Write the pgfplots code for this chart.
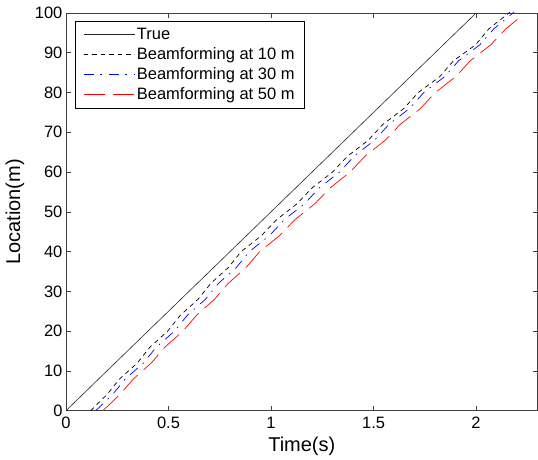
\documentclass[border=0pt]{standalone}
\usepackage{fontspec}
\setmainfont{Liberation Sans}
\usepackage{pgfplots}
\pgfplotsset{compat=1.18}

\begin{document}
\begin{tikzpicture}
\begin{axis}[
  name=ax,
  scale only axis,
  width=472pt, height=398pt,
  xmin=0, xmax=2.3, ymin=0, ymax=100,
  xtick={0,0.5,1,1.5,2},
  ytick={0,10,...,100},
  /pgf/number format/assume math mode=true,
  tick label style={font=\fontsize{16.5}{19}\selectfont},
  xticklabel style={yshift=-3pt},
  label style={font=\fontsize{20}{23}\selectfont},
  xlabel={Time(s)}, ylabel={Location(m)},
  xlabel style={at={(axis description cs:0.5,-0.0905)}, anchor=center},
  ylabel style={at={(axis description cs:-0.108,0.5)}, anchor=center},
  major tick length=5pt,
  axis line style={line width=0.8pt, black!75},
  every tick/.style={black!75, line width=0.6pt},
  legend cell align=left,
  legend style={at={(0,1)}, xshift=9pt, yshift=-8pt, anchor=north west,
    font=\fontsize{16.5}{19}\selectfont, line width=0.6pt,
    inner xsep=8pt, inner ysep=5pt, row sep=2.5pt},
  legend image code/.code={\draw[#1] (0pt,0pt) -- (51pt,0pt);},
]
\addplot[black!85, line width=0.6pt] coordinates {(0,0) (2,100)};
\addlegendentry{True}
\addplot[black, line width=0.7pt, dash pattern=on 4.5pt off 4pt] coordinates {
(0.120,0) (0.199,4) (0.262,8) (0.348,12) (0.410,16) (0.496,20) (0.558,24)
(0.644,28) (0.706,32) (0.792,36) (0.854,40) (0.953,44) (1.027,48) (1.126,52)
(1.200,56) (1.300,60) (1.373,64) (1.474,68) (1.546,72) (1.648,76) (1.718,80)
(1.823,84) (1.890,88) (1.998,92) (2.062,96) (2.160,100) (2.200,102)};
\addlegendentry{Beamforming at 10 m}
\addplot[blue, line width=0.7pt, dash pattern=on 10pt off 6.5pt on 1.5pt off 7pt] coordinates {
(0.145,0) (0.226,4) (0.290,8) (0.378,12) (0.441,16) (0.529,20) (0.592,24)
(0.680,28) (0.743,32) (0.831,36) (0.894,40) (0.992,44) (1.064,48) (1.163,52)
(1.235,56) (1.334,60) (1.405,64) (1.505,68) (1.575,72) (1.676,76) (1.745,80)
(1.847,84) (1.915,88) (2.018,92) (2.086,96) (2.180,100) (2.220,102)};
\addlegendentry{Beamforming at 30 m}
\addplot[red, line width=0.7pt, dash pattern=on 21pt off 8pt] coordinates {
(0.180,0) (0.262,4) (0.329,8) (0.416,12) (0.483,16) (0.570,20) (0.637,24)
(0.724,28) (0.791,32) (0.878,36) (0.945,40) (1.041,44) (1.116,48) (1.213,52)
(1.288,56) (1.385,60) (1.459,64) (1.557,68) (1.630,72) (1.729,76) (1.801,80)
(1.901,84) (1.972,88) (2.072,92) (2.145,96) (2.209,98.7)};
\addlegendentry{Beamforming at 50 m}
\end{axis}
\path ([xshift=-66pt,yshift=13pt]ax.north west) ([yshift=-49pt]ax.south east);
\end{tikzpicture}
\end{document}
